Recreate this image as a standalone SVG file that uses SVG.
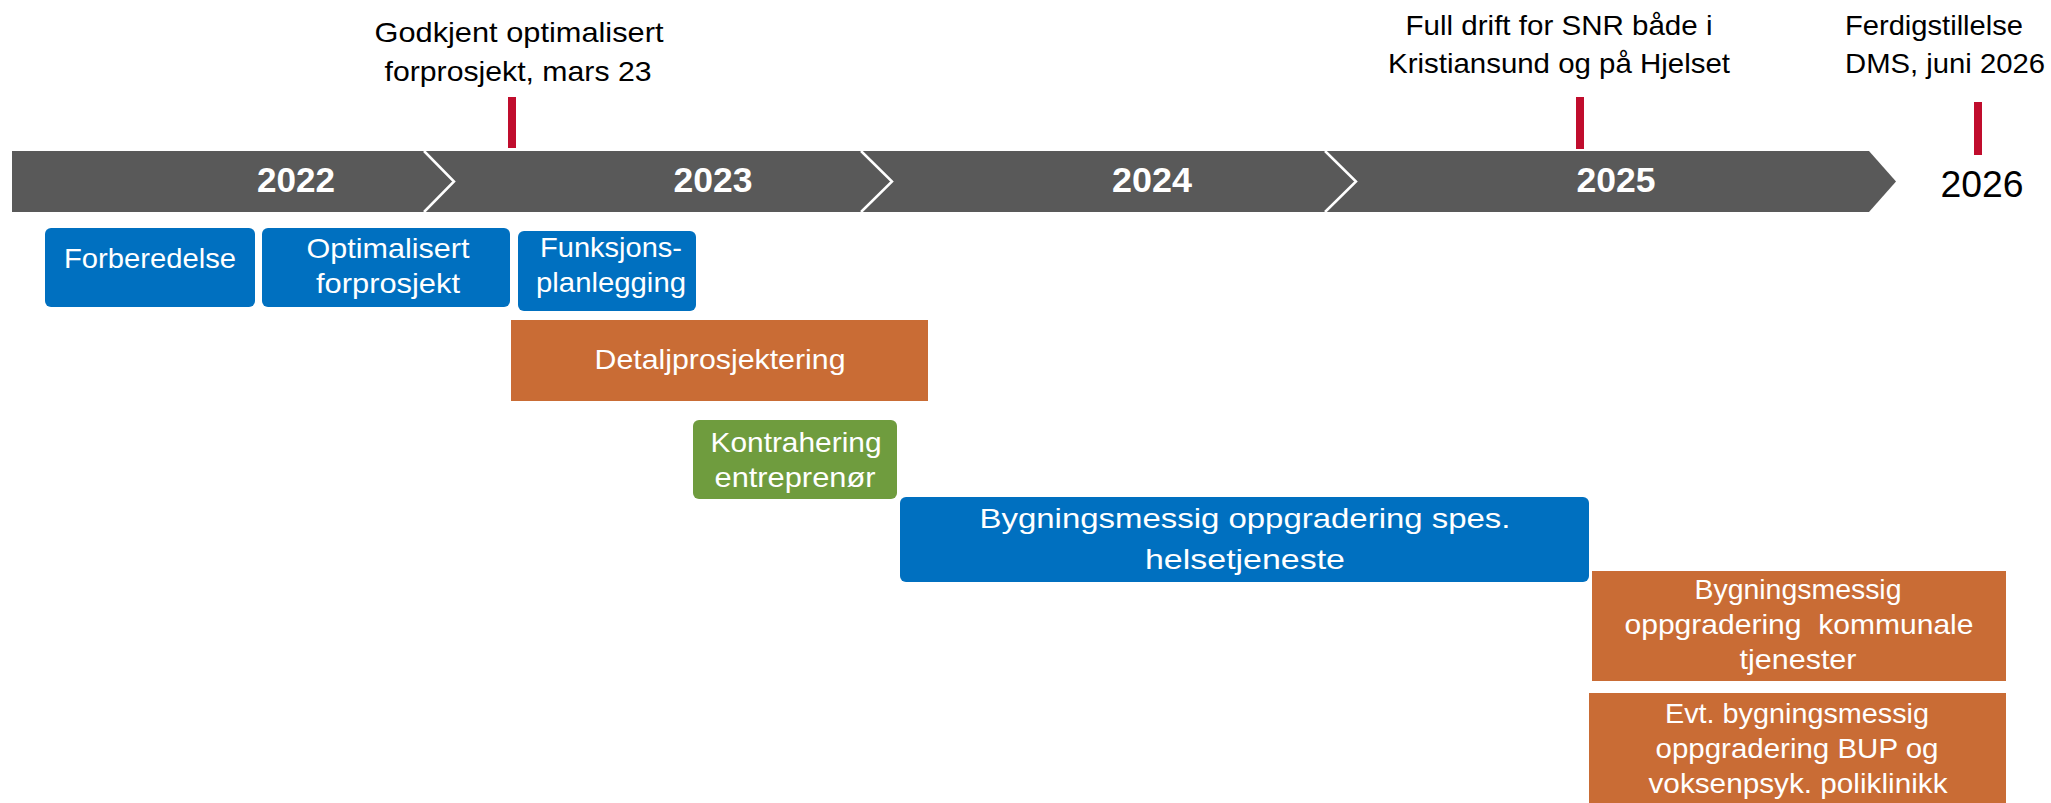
<svg xmlns="http://www.w3.org/2000/svg" width="2051" height="803" viewBox="0 0 2051 803">
<style>
text{font-family:"Liberation Sans",Arial,sans-serif;}
.ms{font-size:28px;fill:#000;}
.yr{font-size:35px;font-weight:bold;fill:#fff;text-anchor:middle;}
.bt{font-size:28px;fill:#fff;text-anchor:middle;}
.blue{fill:#0070C0;}
.orange{fill:#C96C35;}
.green{fill:#6F9C3E;}
.tick{fill:#C00D2D;}
.sep{fill:none;stroke:#fff;stroke-width:2.5;}
</style>
<rect width="2051" height="803" fill="#fff"/>
<g id="timeline">
<polygon points="12,151 1869,151 1896,181.5 1869,212 12,212" fill="#595959"/>
<polyline class="sep" points="424,151 454,181.5 424,212"/>
<polyline class="sep" points="861,151 892,181.5 861,212"/>
<polyline class="sep" points="1325,151 1356,181.5 1325,212"/>
<text class="yr" x="296" y="192" textLength="78" lengthAdjust="spacingAndGlyphs">2022</text>
<text class="yr" x="713" y="192" textLength="79" lengthAdjust="spacingAndGlyphs">2023</text>
<text class="yr" x="1152" y="192" textLength="80" lengthAdjust="spacingAndGlyphs">2024</text>
<text class="yr" x="1616" y="192" textLength="79" lengthAdjust="spacingAndGlyphs">2025</text>
<text x="1982" y="197" font-size="37" fill="#000" text-anchor="middle" textLength="83" lengthAdjust="spacingAndGlyphs">2026</text>
</g>
<g id="milestone-mars23">
<rect class="tick" x="508" y="97" width="8" height="51"/>
<text class="ms" x="519" y="42" text-anchor="middle" textLength="289" lengthAdjust="spacingAndGlyphs">Godkjent optimalisert</text>
<text class="ms" x="518" y="81" text-anchor="middle" textLength="267" lengthAdjust="spacingAndGlyphs">forprosjekt, mars 23</text>
</g>
<g id="milestone-fulldrift">
<rect class="tick" x="1576" y="97" width="8" height="52"/>
<text class="ms" x="1559" y="35" text-anchor="middle" textLength="307" lengthAdjust="spacingAndGlyphs">Full drift for SNR både i</text>
<text class="ms" x="1559" y="73" text-anchor="middle" textLength="342" lengthAdjust="spacingAndGlyphs">Kristiansund og på Hjelset</text>
</g>
<g id="milestone-dms">
<rect class="tick" x="1974" y="102" width="8" height="53"/>
<text class="ms" x="1845" y="35" textLength="178" lengthAdjust="spacingAndGlyphs">Ferdigstillelse</text>
<text class="ms" x="1845" y="73" textLength="200" lengthAdjust="spacingAndGlyphs">DMS, juni 2026</text>
</g>
<g id="forberedelse">
<rect class="blue" x="45" y="228" width="210" height="79" rx="6"/>
<text class="bt" x="150" y="268" textLength="172" lengthAdjust="spacingAndGlyphs">Forberedelse</text>
</g>
<g id="optimalisert-forprosjekt">
<rect class="blue" x="262" y="228" width="248" height="79" rx="6"/>
<text class="bt" x="388" y="258" textLength="163" lengthAdjust="spacingAndGlyphs">Optimalisert</text>
<text class="bt" x="388" y="293" textLength="144" lengthAdjust="spacingAndGlyphs">forprosjekt</text>
</g>
<g id="funksjonsplanlegging">
<rect class="blue" x="518" y="231" width="178" height="80" rx="6"/>
<text class="bt" x="611" y="257" textLength="142" lengthAdjust="spacingAndGlyphs">Funksjons-</text>
<text class="bt" x="611" y="292" textLength="150" lengthAdjust="spacingAndGlyphs">planlegging</text>
</g>
<g id="detaljprosjektering">
<rect class="orange" x="511" y="320" width="417" height="81"/>
<text class="bt" x="720" y="369" textLength="251" lengthAdjust="spacingAndGlyphs">Detaljprosjektering</text>
</g>
<g id="kontrahering">
<rect class="green" x="693" y="420" width="204" height="79" rx="6"/>
<text class="bt" x="796" y="452" textLength="171" lengthAdjust="spacingAndGlyphs">Kontrahering</text>
<text class="bt" x="795" y="487" textLength="161" lengthAdjust="spacingAndGlyphs">entreprenør</text>
</g>
<g id="spes-helsetjeneste">
<rect class="blue" x="900" y="497" width="689" height="85" rx="6"/>
<text class="bt" x="1245" y="528" font-size="32" textLength="531" lengthAdjust="spacingAndGlyphs">Bygningsmessig oppgradering spes.</text>
<text class="bt" x="1245" y="569" font-size="32" textLength="200" lengthAdjust="spacingAndGlyphs">helsetjeneste</text>
</g>
<g id="kommunale-tjenester">
<rect class="orange" x="1592" y="571" width="414" height="110"/>
<text class="bt" x="1798" y="599" font-size="27" textLength="207" lengthAdjust="spacingAndGlyphs">Bygningsmessig</text>
<text class="bt" x="1799" y="634" font-size="27" textLength="349" lengthAdjust="spacingAndGlyphs" xml:space="preserve">oppgradering  kommunale</text>
<text class="bt" x="1798" y="669" font-size="27" textLength="117" lengthAdjust="spacingAndGlyphs">tjenester</text>
</g>
<g id="bup-poliklinikk">
<rect class="orange" x="1589" y="693" width="417" height="115"/>
<text class="bt" x="1797" y="723" font-size="27" textLength="264" lengthAdjust="spacingAndGlyphs">Evt. bygningsmessig</text>
<text class="bt" x="1797" y="758" font-size="27" textLength="283" lengthAdjust="spacingAndGlyphs">oppgradering BUP og</text>
<text class="bt" x="1798" y="793" font-size="27" textLength="299" lengthAdjust="spacingAndGlyphs">voksenpsyk. poliklinikk</text>
</g>
<g id="connectors"></g>
</svg>
